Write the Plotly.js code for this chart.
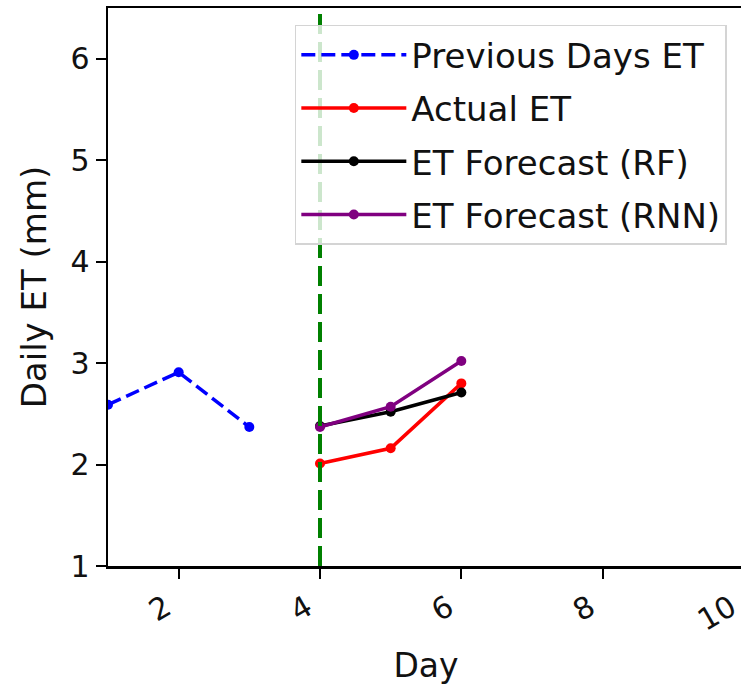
<!DOCTYPE html>
<html>
<head>
<meta charset="utf-8">
<script src="https://cdn.plot.ly/plotly-3.0.1.min.js"></script>
<style>
html,body{margin:0;padding:0;overflow:hidden;background:#fff;width:741px;height:690px;}
#chart{width:760px;height:690px;}
</style>
</head>
<body>
<div id="chart"></div>
<script>
// Data
const prevDays = [1, 2, 3];
const prevET = [2.59, 2.91, 2.37];
const fcDays = [4, 5, 6];
const actualET = [2.01, 2.16, 2.80];
const rfET = [2.38, 2.52, 2.71];
const rnnET = [2.37, 2.57, 3.02];
const forecastStart = 4;
const xTicks = [2, 4, 6, 8, 10];
const yTicks = [1, 2, 3, 4, 5, 6];

const FONT = "DejaVu Sans";
const lw = 3.5, ms = 10;

const traces = [
  {x: prevDays, y: prevET, name: "Previous Days ET", mode: "lines+markers", legendgroup: "a",
   line: {color: "#0000ff", width: lw, dash: "14px,6px"}, marker: {color: "#0000ff", size: ms}},
  {x: fcDays, y: actualET, name: "Actual ET", mode: "lines+markers", legendgroup: "b",
   line: {color: "#ff0000", width: lw}, marker: {color: "#ff0000", size: ms}},
  {x: fcDays, y: rfET, name: "ET Forecast (RF)", mode: "lines+markers", legendgroup: "c",
   line: {color: "#000000", width: lw}, marker: {color: "#000000", size: ms}},
  {x: fcDays, y: rnnET, name: "ET Forecast (RNN)", mode: "lines+markers", legendgroup: "d",
   line: {color: "#800080", width: lw}, marker: {color: "#800080", size: ms}}
];

const layout = {
  width: 760, height: 690,
  margin: {l: 108, r: 16, t: 8, b: 124},
  paper_bgcolor: "#fff", plot_bgcolor: "#fff",
  font: {family: FONT, color: "#000", size: 30},
  showlegend: true,
  legend: {
    x: 0.973, y: 0.97, xanchor: "right", yanchor: "top",
    bgcolor: "rgba(255,255,255,0.8)", bordercolor: "#d4d4d4", borderwidth: 1.5,
    font: {family: FONT, size: 34, color: "#111"},
    itemwidth: 105,
    tracegroupgap: 6
  },
  xaxis: {
    range: [1, 10], tickvals: xTicks, ticktext: xTicks.map(String),
    tickangle: -30, ticks: "outside", ticklen: 10, tickwidth: 2, tickcolor: "#000",
    ticklabelshift: -13,
    showline: true, linecolor: "#000", linewidth: 2.5, mirror: true,
    showgrid: false, zeroline: false,
    tickfont: {family: FONT, size: 30, color: "#111"},
    title: {text: "Day", font: {family: FONT, size: 33, color: "#111"}, standoff: 18}
  },
  yaxis: {
    range: [1, 6.5], tickvals: yTicks, ticktext: yTicks.map(String),
    ticks: "outside", ticklen: 10, tickwidth: 2, tickcolor: "#000",
    showline: true, linecolor: "#000", linewidth: 2.5, mirror: true,
    showgrid: false, zeroline: false,
    tickfont: {family: FONT, size: 30, color: "#111"},
    title: {text: "Daily ET (mm)", font: {family: FONT, size: 34, color: "#111"}, standoff: 14}
  },
  shapes: [{
    type: "line", xref: "x", yref: "paper", x0: forecastStart, x1: forecastStart, y0: 0, y1: 1,
    line: {color: "#008000", width: 4, dash: "20px,8px"}, layer: "above"
  }]
};

Plotly.newPlot("chart", traces, layout, {displayModeBar: false, staticPlot: true});
</script>
</body>
</html>
